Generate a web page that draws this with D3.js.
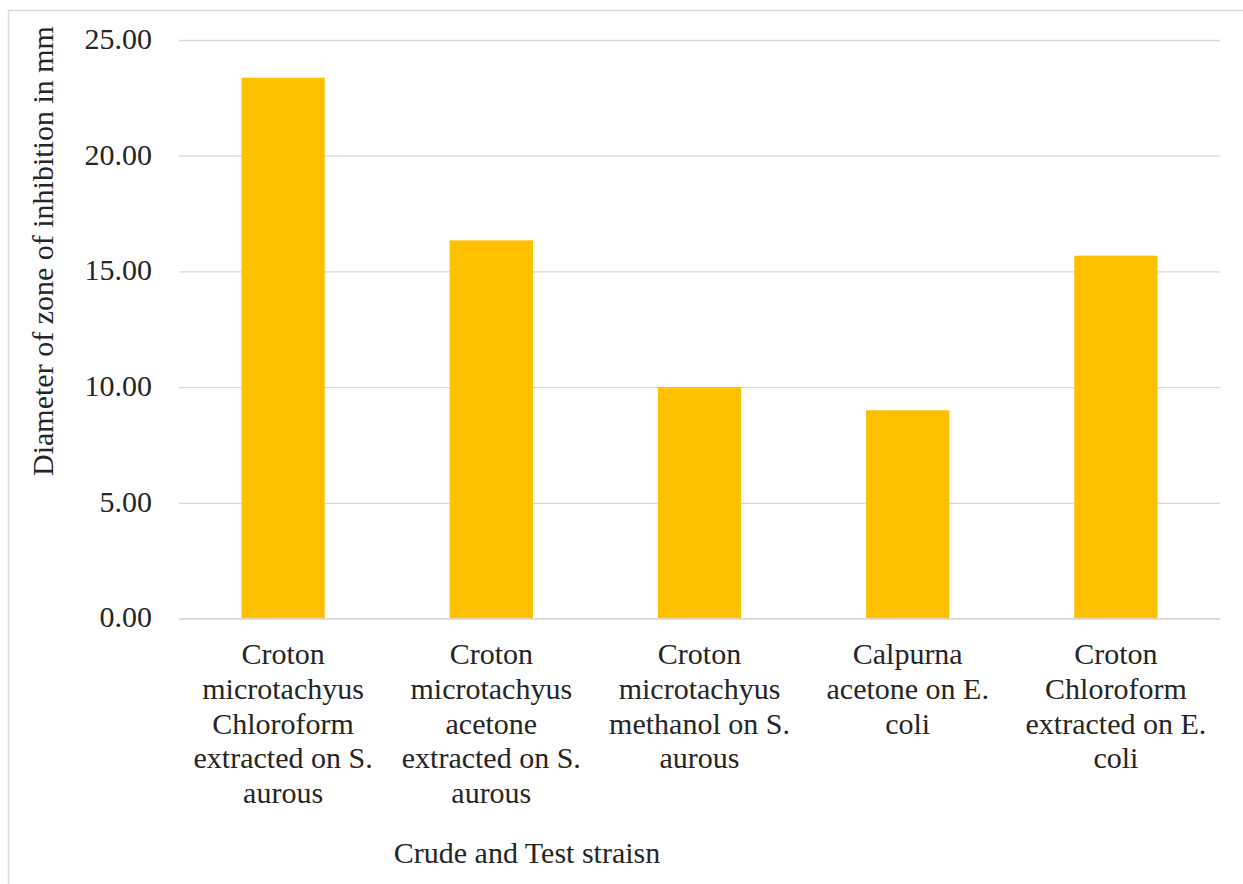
<!DOCTYPE html>
<html lang="en">
    <head>
        <meta charset="utf-8">
        <title>Zone of inhibition</title>
        <script src="https://d3js.org/d3.v7.min.js"></script>
        <style type="text/css">
            body {
                margin: 0;
                background: white;
            }

            .grid line {
                stroke: #d9d9d9;
                stroke-width: 1.3px;
            }
        </style>
    </head>
    <body>
        <svg width="1243" height="884"></svg>
        <script type="text/javascript">

            //data
            const categories = [
                "Croton microtachyus Chloroform extracted on S. aurous",
                "Croton microtachyus acetone extracted on S. aurous",
                "Croton microtachyus methanol on S. aurous",
                "Calpurna acetone on E. coli",
                "Croton Chloroform extracted on E. coli"
            ];
            const values = [23.37, 16.34, 10.0, 9.0, 15.68];
            const yTicks = [0, 5, 10, 15, 20, 25];

            const serif = "'Liberation Serif', 'Times New Roman', serif";
            const textColor = "#262626";

            const svg = d3.select("svg");

            //plot area
            const plotLeft = 179, plotRight = 1220, plotTop = 40, plotBottom = 618.5;

            //outer chart border (runs off the right and bottom edges)
            svg.append("rect")
               .attr("x", 8.5)
               .attr("y", 10.5)
               .attr("width", 1400)
               .attr("height", 1000)
               .attr("fill", "none")
               .attr("stroke", "#d9d9d9")
               .attr("stroke-width", 1.5);

            const x = d3.scaleBand()
                        .domain(categories)
                        .range([plotLeft, plotRight])
                        .paddingInner(0.6)
                        .paddingOuter(0.3);

            const y = d3.scaleLinear()
                        .domain([0, 25])
                        .range([plotBottom, plotTop]);

            //gridlines + y tick labels
            const yAxis = svg.append("g")
                .attr("class", "grid")
                .attr("transform", "translate(" + plotLeft + ",0)")
                .call(d3.axisLeft(y)
                        .tickValues(yTicks)
                        .tickFormat(d3.format(".2f"))
                        .tickSize(-(plotRight - plotLeft))
                        .tickPadding(27));
            yAxis.select(".domain").remove();
            yAxis.attr("font-family", serif).attr("font-size", 30);
            yAxis.selectAll(".tick text")
                 .attr("dy", "0.28em")
                 .attr("fill", textColor);

            //bars
            svg.selectAll("rect.bar")
               .data(values)
               .enter()
               .append("rect")
               .attr("class", "bar")
               .attr("x", (d, i) => x(categories[i]))
               .attr("y", d => y(d))
               .attr("width", x.bandwidth())
               .attr("height", d => y(0) - y(d))
               .attr("fill", "#ffc000");

            //x axis
            const xAxis = svg.append("g")
                .attr("transform", "translate(0," + plotBottom + ")")
                .call(d3.axisBottom(x).tickSize(0).tickPadding(0));
            xAxis.attr("font-family", serif).attr("font-size", 30);
            xAxis.select(".domain")
                 .attr("stroke", "#d9d9d9")
                 .attr("stroke-width", 1.5);

            xAxis.selectAll(".tick text")
                 .attr("y", 0)
                 .attr("dy", 0)
                 .attr("fill", textColor)
                 .call(wrap, 195);

            //wrap long category names into lines
            function wrap(texts, width) {
                texts.each(function() {
                    const text = d3.select(this);
                    const words = text.text().split(" ");
                    text.text(null);
                    let line = [];
                    let lineNo = 0;
                    let tspan = text.append("tspan").attr("x", 0).attr("y", 45.5);
                    words.forEach(w => {
                        line.push(w);
                        tspan.text(line.join(" "));
                        if (tspan.node().getComputedTextLength() > width && line.length > 1) {
                            line.pop();
                            tspan.text(line.join(" "));
                            line = [w];
                            lineNo++;
                            tspan = text.append("tspan")
                                        .attr("x", 0)
                                        .attr("y", 45.5 + lineNo * 34.8)
                                        .text(w);
                        }
                    });
                });
            }

            //axis titles
            svg.append("text")
               .attr("font-family", serif)
               .attr("font-size", 30)
               .attr("fill", textColor)
               .attr("text-anchor", "middle")
               .attr("transform", "translate(53,251) rotate(-90)")
               .text("Diameter of zone of inhibition in mm");

            svg.append("text")
               .attr("font-family", serif)
               .attr("font-size", 30)
               .attr("fill", textColor)
               .attr("text-anchor", "middle")
               .attr("x", 527)
               .attr("y", 863)
               .text("Crude and Test straisn");

        </script>
    </body>
</html>
